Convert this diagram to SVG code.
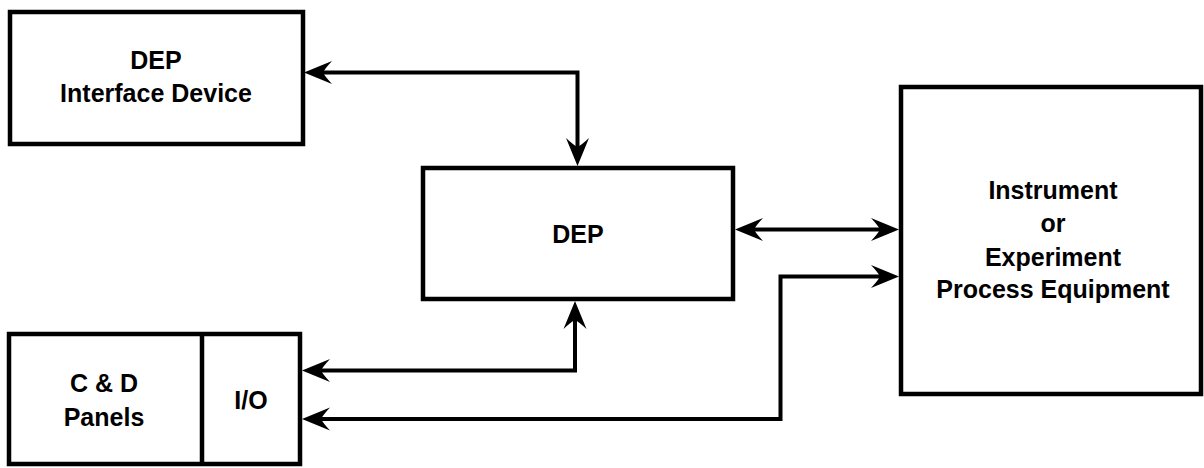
<svg xmlns="http://www.w3.org/2000/svg" width="1204" height="468" viewBox="0 0 1204 468">
<style>
.box{fill:#fff;stroke:#000;stroke-width:4.5}
.lbl{font-family:"Liberation Sans",Arial,Helvetica,sans-serif;font-weight:bold;font-size:25px;fill:#000;text-anchor:middle}
.conn{fill:none;stroke:#000;stroke-width:4;stroke-linejoin:miter;marker-start:url(#ah);marker-end:url(#ah)}
</style>
<defs>
<marker id="ah" viewBox="-30 -13 32 26" refX="-18" refY="0" markerWidth="32" markerHeight="26" markerUnits="userSpaceOnUse" orient="auto-start-reverse" overflow="visible">
<path d="M0,0 L-28,-11.5 Q-21,-4 -19,0 Q-21,4 -28,11.5 Z" fill="#000"/>
</marker>
</defs>
<rect width="1204" height="468" fill="#fff"/>
<g id="connectors">
<path class="conn" d="M322,72.5 H577.5 V148"/>
<path class="conn" d="M753,229.5 H881"/>
<path class="conn" d="M575,319 V370.5 H320"/>
<path class="conn" d="M881,276.5 H780.5 V419 H320"/>
</g>
<g id="dep-interface-device">
<rect class="box" x="10" y="12" width="293" height="132"/>
<text class="lbl" x="156" y="69">DEP</text>
<text class="lbl" x="156" y="102">Interface Device</text>
</g>
<g id="dep">
<rect class="box" x="423" y="168" width="310" height="131"/>
<text class="lbl" x="578" y="243">DEP</text>
</g>
<g id="instrument">
<rect class="box" x="901" y="87" width="300" height="307"/>
<text class="lbl" x="1053" y="199">Instrument</text>
<text class="lbl" x="1053" y="232">or</text>
<text class="lbl" x="1053" y="266">Experiment</text>
<text class="lbl" x="1053" y="298">Process Equipment</text>
</g>
<g id="cd-panels">
<rect class="box" x="9" y="334" width="291" height="130"/>
<line x1="202" y1="334" x2="202" y2="464" stroke="#000" stroke-width="4.5"/>
<text class="lbl" x="104" y="392">C &amp; D</text>
<text class="lbl" x="104" y="426">Panels</text>
<text class="lbl" x="251" y="409">I/O</text>
</g>
</svg>
